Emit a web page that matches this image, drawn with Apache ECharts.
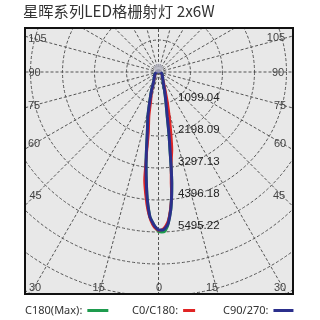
<!DOCTYPE html>
<html><head><meta charset="utf-8">
<script src="https://cdn.jsdelivr.net/npm/echarts@6/dist/echarts.min.js"></script>
<style>html,body{margin:0;padding:0;background:#fff}#c{width:320px;height:320px}</style>
</head><body><div id="c"></div><script>
const titleText = '星晖系列LED格栅射灯 2x6W';
const seriesNames = ['C180(Max)', 'C0/C180', 'C90/270'];
const ringStep = 1099.044;
const ringLabels = ['1099.04', '2198.09', '3297.13', '4396.18', '5495.22'];
const angleTickLabels = ['105', '90', '75', '60', '45', '30', '15', '0'];
// gamma in degrees: + = left half, - = right half; intensity in cd
const c180Gamma = [180, 90, 60, 45, 35, 28, 25, 21, 17, 13.5, 10.4, 8.8, 7.5, 6.2, 5, 3.4, 2.2, 1.3, 0, -1.2, -2.2, -3.2, -3.7, -5.05, -6, -6.8, -7.6, -8.4, -9.6, -11.1, -14, -18, -23.6, -30, -40, -60, -90, -180];
const c180Intensity = [30, 60, 140, 190, 260, 350, 420, 650, 1000, 1550, 2130, 2700, 3280, 3850, 4410, 4980, 5180, 5320, 5470, 5495, 5480, 5330, 5200, 4760, 4300, 3840, 3270, 2710, 2150, 1565, 1050, 680, 412, 300, 210, 140, 60, 30];
const c0Gamma = [180, 90, 60, 40, 28, 22, 18, 15, 12, 9.3, 8.2, 7.4, 6, 4.5, 3.1, 1.6, 0, -1.5, -2.7, -3.8, -5, -6, -6.5, -7.5, -8.6, -9.8, -11.6, -13.7, -16.5, -20, -25, -32, -45, -60, -90, -180];
const c0Intensity = [30, 60, 120, 200, 330, 520, 780, 1000, 1550, 2120, 2900, 3740, 4250, 4750, 5090, 5330, 5440, 5400, 5280, 5100, 4700, 4250, 3800, 3300, 3000, 2720, 2140, 1590, 1100, 700, 430, 280, 180, 120, 60, 30];
const c90Gamma = [180, 90, 60, 45, 35, 28, 25, 21, 17, 13.5, 10.4, 8.8, 7.5, 6.2, 5, 3.4, 2.2, 1.3, -0.2, -1.6, -2.7, -3.7, -5.05, -6, -6.8, -7.6, -8.4, -9.6, -11.1, -14, -18, -23.6, -30, -40, -60, -90, -180];
const c90Intensity = [30, 60, 140, 190, 260, 350, 420, 650, 1000, 1550, 2130, 2700, 3280, 3850, 4410, 4980, 5180, 5310, 5427, 5430, 5340, 5200, 4760, 4300, 3840, 3270, 2710, 2150, 1565, 1050, 680, 412, 300, 210, 140, 60, 30];
const upwardGlow = [[130, 180]];

function toPolar(g, v) {
  return g.map((a, i) => [v[i], a >= 0 ? a : 360 + a]);
}
const BOX = {x: 25, y: 28, w: 268, h: 266};
const CX = 158.5, CY = 72;
const labelPos = [
  [37.5, 38.5], [34.5, 73], [34, 105.5], [34, 143.7], [35.5, 195.5], [35, 288], [98.7, 288], [159, 288],
  [276, 38.3], [278, 73], [280, 105.7], [280, 143.7], [279, 195.5], [280, 288], [212, 288]
];
const graphics = [
  {type: 'rect', shape: {x: BOX.x, y: BOX.y, width: BOX.w, height: BOX.h}, style: {fill: '#e8e8e8'}, z: -10, silent: true},
  {type: 'rect', shape: {x: 0, y: 0, width: 320, height: BOX.y}, style: {fill: '#fff'}, z: 50, silent: true},
  {type: 'rect', shape: {x: 0, y: BOX.y + BOX.h, width: 320, height: 320}, style: {fill: '#fff'}, z: 50, silent: true},
  {type: 'rect', shape: {x: 0, y: 0, width: BOX.x, height: 320}, style: {fill: '#fff'}, z: 50, silent: true},
  {type: 'rect', shape: {x: BOX.x + BOX.w, y: 0, width: 60, height: 320}, style: {fill: '#fff'}, z: 50, silent: true},
  {type: 'rect', shape: {x: BOX.x, y: BOX.y, width: BOX.w, height: BOX.h}, style: {fill: 'none', stroke: '#111', lineWidth: 2}, z: 51, silent: true}
];
const allAngleLabels = angleTickLabels.concat(angleTickLabels.slice(0, 7));
labelPos.forEach((p, i) => {
  graphics.push({type: 'text', x: p[0], y: p[1], z: 52, silent: true,
    style: {text: allAngleLabels[i], fill: '#444', font: '11px "Liberation Sans", Arial, sans-serif', align: 'center', verticalAlign: 'middle'}});
});

const legendCommon = {top: 305, padding: 0, align: 'right', icon: 'rect', itemHeight: 3, z: 60,
  formatter: n => n + ':', textStyle: {fontSize: 11, color: '#333', fontFamily: '"Noto Sans", sans-serif'}};

const chart = echarts.init(document.getElementById('c'), null, {renderer: 'canvas'});
chart.setOption({
  animation: false,
  title: {text: titleText, left: 23, top: 4, padding: 0, z: 60,
    textStyle: {fontSize: 15.3, fontWeight: 'normal', color: '#333', fontFamily: '"Noto Sans CJK SC", sans-serif'}},
  legend: [
    Object.assign({}, legendCommon, {data: [seriesNames[0]], left: 25, itemWidth: 21}),
    Object.assign({}, legendCommon, {data: [seriesNames[1]], left: 132, itemWidth: 12}),
    Object.assign({}, legendCommon, {data: [seriesNames[2]], left: 223, itemWidth: 20})
  ],
  polar: {center: [CX, CY], radius: [0, 288]},
  angleAxis: {type: 'value', min: 0, max: 360, interval: 15, startAngle: 270, clockwise: true,
    axisLine: {show: false}, axisTick: {show: false}, axisLabel: {show: false},
    splitLine: {show: true, lineStyle: {color: '#555', width: 1, type: [3, 2]}}},
  radiusAxis: {type: 'value', min: 0, max: ringStep * 9, interval: ringStep,
    axisLine: {show: false}, axisTick: {show: false},
    axisLabel: {show: true, fontSize: 11.5, color: '#222', margin: 19.5, verticalAlign: 'bottom', align: 'left',
      fontFamily: '"Liberation Sans", Arial, sans-serif',
      formatter: (v) => { const k = Math.round(v / ringStep); return (k >= 1 && k <= 5) ? ringLabels[k - 1] : ''; }},
    splitLine: {show: true, lineStyle: {color: '#555', width: 1, type: [3, 2]}}},
  graphic: graphics,
  series: [
    {name: seriesNames[0], type: 'line', coordinateSystem: 'polar', data: toPolar(c180Gamma, c180Intensity),
      symbol: 'none', smooth: 0.2, color: '#1e9b4e', lineStyle: {width: 3, color: '#1e9b4e'}, z: 2},
    {name: seriesNames[1], type: 'line', coordinateSystem: 'polar', data: toPolar(c0Gamma, c0Intensity),
      symbol: 'none', smooth: 0.2, color: '#e02424', lineStyle: {width: 2.5, color: '#e02424'}, z: 3},
    {name: seriesNames[2], type: 'line', coordinateSystem: 'polar', data: toPolar(c90Gamma, c90Intensity),
      symbol: 'none', smooth: 0.2, color: '#2b2f8c', lineStyle: {width: 3, color: '#2b2f8c'}, z: 4},
    {name: 'glow', type: 'scatter', coordinateSystem: 'polar', data: upwardGlow, symbolSize: 9,
      itemStyle: {color: '#b4b4c0'}, z: 5, silent: true}
  ]
});
</script></body></html>
